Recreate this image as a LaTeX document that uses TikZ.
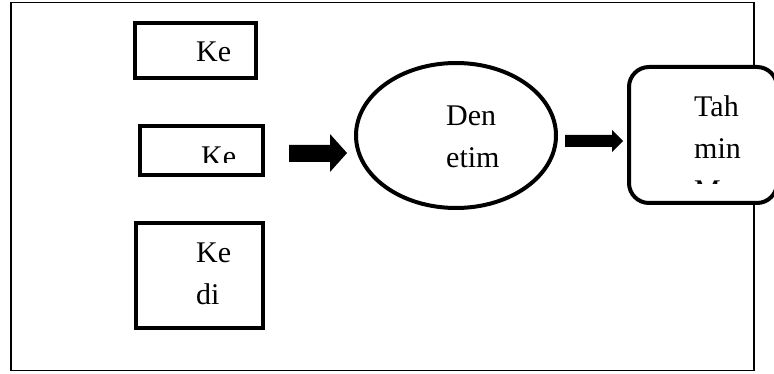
\documentclass[tikz,border=0pt]{standalone}
\usepackage{fontspec}
\setmainfont{Liberation Serif}
\usetikzlibrary{shapes.geometric}
\begin{document}
\begin{tikzpicture}[x=1pt,y=-1pt,
  panel/.style={draw, line width=4pt, fill=white, inner sep=0pt},
  label/.style={inner sep=0pt, font=\fontsize{30}{42.5}\selectfont, align=left},
  blockarrow/.style={fill=black}]
% page area
\clip (0,0) rectangle (774,374);
\fill[white] (0,0) rectangle (774,374);
% outer frame
\draw[line width=1.4pt] (11,2.5) rectangle (754,370.5);

% input boxes
\node[panel, minimum width=121pt, minimum height=55pt] (in1) at (195.5,50.5) {};
\node[panel, minimum width=123pt, minimum height=49pt] (in2) at (201.5,150.5) {};
\node[panel, minimum width=127pt, minimum height=105pt] (in3) at (199.5,275.5) {};

% process ellipse
\node[ellipse, draw, line width=4pt, fill=white, inner sep=0pt,
      minimum width=200pt, minimum height=145pt] (proc) at (456,135.5) {};

% output box
\node[panel, rounded corners=20pt, minimum width=148pt, minimum height=136pt] (out) at (703,135) {};

% block arrows
\fill[blockarrow] (289,145) -- (330,145) -- (330,134) -- (347,153) -- (330,172)
  -- (330,162) -- (289,162) -- cycle;
\fill[blockarrow] (565,135) -- (612,135) -- (612,130) -- (623,141) -- (612,152)
  -- (612,147) -- (565,147) -- cycle;

% texts (the base anchor of a multi-line node sits on its last line)
\node[label, anchor=base west] (in1t) at (196,62) {Ke};
\begin{scope}
  \clip (140,126) rectangle (263,163);
  \node[label, anchor=base west] (in2t) at (201,167) {Ke};
\end{scope}
\node[label, anchor=base west] (in3t) at (196,305) {Ke\\di};
\node[label, anchor=base west] (proct) at (446,168) {Den\\etim};
\begin{scope}
  \clip (629,67) rectangle (775,184);
  \node[label, anchor=base west] (outt) at (694,201) {Tah\\min\\M};
\end{scope}
\end{tikzpicture}
\end{document}
